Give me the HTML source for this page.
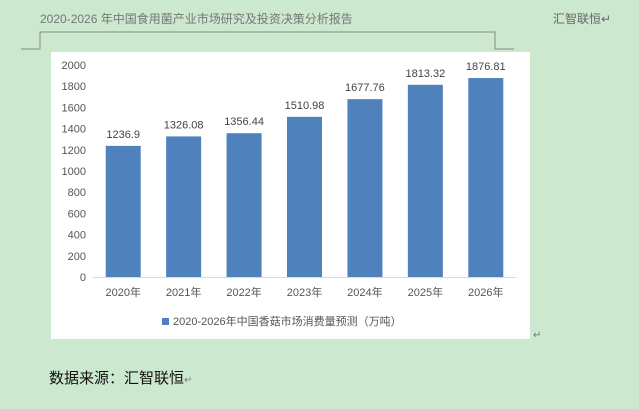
<!DOCTYPE html>
<html><head><meta charset="utf-8"><style>
body{margin:0;width:639px;height:409px;background:#cce8cf;position:relative;overflow:hidden;font-family:"Liberation Sans","Noto Sans CJK SC",sans-serif}
.a{position:absolute}
</style></head><body>
<div class="a" style="left:40px;top:10px;font-size:12px;color:#777">2020-2026 年中国食用菌产业市场研究及投资决策分析报告</div>
<div class="a" style="left:553px;top:10px;font-size:12px;color:#666">汇智联恒↵</div>
<svg class="a" style="left:0;top:0" width="639" height="409">
<polyline points="21,49 40,49 40,32 495,32 495,49 514,49" fill="none" stroke="#888" stroke-width="1"/>
</svg>
<div class="a" style="left:51px;top:52px;width:479px;height:287px;background:#fff"></div>
<svg id="c" class="a" style="left:0;top:0" width="639" height="409"></svg>
<div class="a" style="left:162px;top:313px;font-size:11px;color:#555;display:flex;align-items:center"><span style="display:inline-block;width:7px;height:7px;background:#4f81bd;margin-right:4px"></span>2020-2026年中国香菇市场消费量预测（万吨）</div>
<div class="a" style="left:533px;top:330px;font-size:10px;color:#777">↵</div>
<div class="a" style="left:49px;top:367px;font-size:15px;color:#111">数据来源：汇智联恒<span style="font-size:10px;color:#777">↵</span></div>
<script>
const categories=["2020年","2021年","2022年","2023年","2024年","2025年","2026年"];
const values=[1236.9,1326.08,1356.44,1510.98,1677.76,1813.32,1876.81];
const labels=["1236.9","1326.08","1356.44","1510.98","1677.76","1813.32","1876.81"];
const yTicks=[0,200,400,600,800,1000,1200,1400,1600,1800,2000];
const svg=document.getElementById('c');const NS='http://www.w3.org/2000/svg';
const x0=93,x1=516,y0=277,yTop=65,maxV=2000;
const y=v=>y0-(v/maxV)*(y0-yTop);
const step=(x1-x0)/categories.length;
const xc=i=>x0+step*(i+0.5);
function mk(t,a,txt){const e=document.createElementNS(NS,t);for(const k in a)e.setAttribute(k,a[k]);if(txt!=null)e.textContent=txt;svg.appendChild(e);return e;}
yTicks.forEach(v=>{const e=mk('text',{x:86,y:y(v)+4,'text-anchor':'end','font-size':11,fill:'#555','font-family':'Liberation Sans'},v);

});
const ax=mk('line',{x1:x0,x2:x1,y1:y0+0.5,y2:y0+0.5,stroke:'#d9d9d9'});


values.forEach((v,i)=>{const bw=35;
const r=mk('rect',{x:xc(i)-bw/2,y:y(v),width:bw,height:y0-y(v),fill:'#4f81bd'});


const t=mk('text',{x:xc(i),y:y(v)-8,'text-anchor':'middle','font-size':11,fill:'#444','font-family':'Liberation Sans'},labels[i]);


const c=mk('text',{x:xc(i),y:y0+19,'text-anchor':'middle','font-size':11,fill:'#555','font-family':'Liberation Sans, Noto Sans CJK SC, sans-serif'},categories[i]);

});
</script>
</body></html>
